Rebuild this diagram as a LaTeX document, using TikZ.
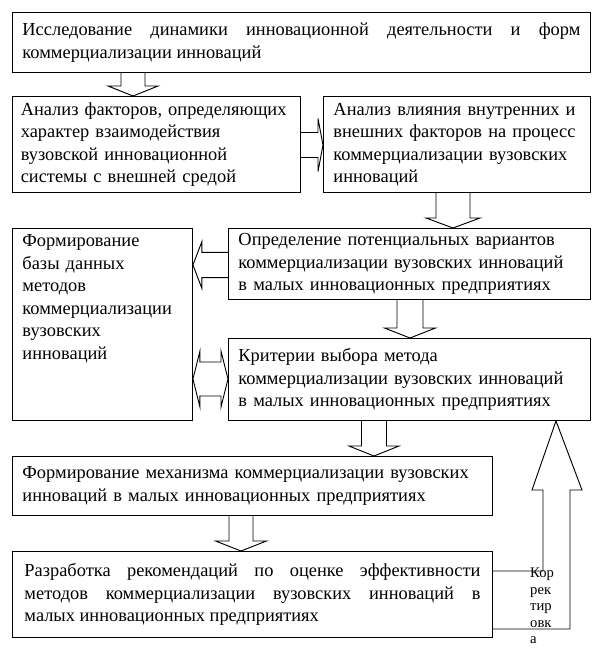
\documentclass[tikz,border=0pt]{standalone}
\usepackage{fontspec}
\setmainfont{Liberation Serif}
\usetikzlibrary{calc}

\hyphenpenalty=10000

\tikzset{
  stagebox/.style={
    draw=black, fill=white, line width=0.8pt,
    anchor=north west, align=left,
    inner xsep=0.3cm, inner ysep=0.15cm,
    font=\fontsize{15.7}{19.2}\selectfont
  },
  justbox/.style={stagebox, align=justify},
  blockarrow/.style={draw=black, line width=0.8pt, line join=miter},
  korrtext/.style={
    anchor=north west, align=left, inner sep=0pt,
    font=\fontsize{12.5}{14}\selectfont
  },
}

% hollow block arrow pointing down: x, from, to, shaft half, head half
\newcommand{\downblock}[5]{%
  \draw[blockarrow] let \p1=(#2.south), \p2=(#3.north) in
    (#1cm-#4cm,\y1) -- (#1cm-#4cm,\y2+0.3cm) -- (#1cm-#5cm,\y2+0.3cm)
    -- (#1cm,\y2) -- (#1cm+#5cm,\y2+0.3cm) -- (#1cm+#4cm,\y2+0.3cm)
    -- (#1cm+#4cm,\y1);}

\begin{document}
\begin{tikzpicture}
\useasboundingbox (0,0) rectangle (18.03,-19.59);

%% Research of dynamics
\node[justbox, minimum width=17.34cm, minimum height=1.80cm, text width=16.74cm]
  (study) at (0.36,-0.36)
  {Исследование динамики инновационной деятельности и форм\linebreak
   коммерциализации инноваций};

%% Row 2
\node[stagebox, inner xsep=0.25cm, minimum width=8.64cm, minimum height=2.88cm, text width=8.14cm]
  (factors) at (0.36,-2.88)
  {Анализ факторов, определяющих\\характер взаимодействия\\вузовской инновационной\\системы с внешней средой};

\node[stagebox, minimum width=8.01cm, minimum height=2.88cm, text width=7.41cm]
  (influence) at (9.69,-2.88)
  {Анализ влияния внутренних и\\внешних факторов на процесс\\коммерциализации вузовских\\инноваций};

%% Database of methods -- text kept at the top
\node[stagebox, minimum width=5.40cm, minimum height=5.76cm, text width=4.80cm]
  (database) at (0.36,-6.84)
  {Формирование\\базы данных\\методов\\коммерциализации\\вузовских\\инноваций\rule[-1.65cm]{0pt}{0pt}};

\node[stagebox, minimum width=10.86cm, minimum height=2.10cm, text width=10.26cm]
  (variants) at (6.84,-6.84)
  {Определение потенциальных вариантов\\коммерциализации вузовских инноваций\\в малых инновационных предприятиях};

\node[stagebox, minimum width=10.86cm, minimum height=2.46cm, text width=10.26cm]
  (criteria) at (6.84,-10.14)
  {Критерии выбора метода\\коммерциализации вузовских инноваций\\в малых инновационных предприятиях};

%% Mechanism and recommendations
\node[stagebox, minimum width=14.40cm, minimum height=1.77cm, text width=13.80cm]
  (mechanism) at (0.36,-13.68)
  {Формирование механизма коммерциализации вузовских\\инноваций в малых инновационных предприятиях};

\node[justbox, inner xsep=0.36cm, minimum width=14.40cm, minimum height=2.58cm, text width=13.68cm]
  (recommend) at (0.36,-16.53)
  {Разработка рекомендаций по оценке эффективности\linebreak
   методов коммерциализации вузовских инноваций в\linebreak
   малых инновационных предприятиях};

%% Down arrows
\downblock{3.99}{study}{factors}{0.36}{0.75}
\downblock{13.59}{influence}{variants}{0.51}{0.81}
\downblock{12.30}{variants}{criteria}{0.39}{0.765}
\downblock{11.22}{criteria}{mechanism}{0.375}{0.75}
\downblock{7.23}{mechanism}{recommend}{0.36}{0.765}

%% Side arrows
\draw[blockarrow] let \p1=(factors.east), \p2=(influence.west) in
  (\x1,-3.975cm) -- (\x2-0.15cm,-3.975cm) -- (\x2-0.15cm,-3.555cm) -- (\x2,-4.35cm)
  -- (\x2-0.15cm,-5.145cm) -- (\x2-0.15cm,-4.725cm) -- (\x1,-4.725cm);

\draw[blockarrow] let \p1=(variants.west), \p2=(database.east) in
  (\x1,-7.57cm) -- (\x2+0.27cm,-7.57cm) -- (\x2+0.27cm,-7.245cm) -- (\x2,-7.95cm)
  -- (\x2+0.27cm,-8.655cm) -- (\x2+0.27cm,-8.33cm) -- (\x1,-8.33cm);

\draw[blockarrow] let \p1=(database.east), \p2=(criteria.west) in
  (\x1,-11.37cm) -- (\x1+0.21cm,-10.53cm) -- (\x1+0.21cm,-10.86cm)
  -- (\x2-0.21cm,-10.86cm) -- (\x2-0.21cm,-10.53cm) -- (\x2,-11.37cm)
  -- (\x2-0.21cm,-12.21cm) -- (\x2-0.21cm,-11.88cm) -- (\x1+0.21cm,-11.88cm)
  -- (\x1+0.21cm,-12.21cm) -- cycle;

%% Correction loop
\draw[blockarrow] let \p1=(recommend.east), \p2=(criteria.south) in
  (\x1,-17.13cm) -- (16.29cm,-17.13cm) -- (16.29cm,-14.70cm) -- (15.96cm,-14.70cm)
  -- (16.68cm,\y2) -- (17.46cm,-14.70cm) -- (17.10cm,-14.70cm)
  -- (17.10cm,-18.87cm) -- (\x1,-18.87cm);

\node[korrtext] (korr) at (15.90,-17.04) {Кор\\рек\\тир\\овк\\а};

\end{tikzpicture}
\end{document}
